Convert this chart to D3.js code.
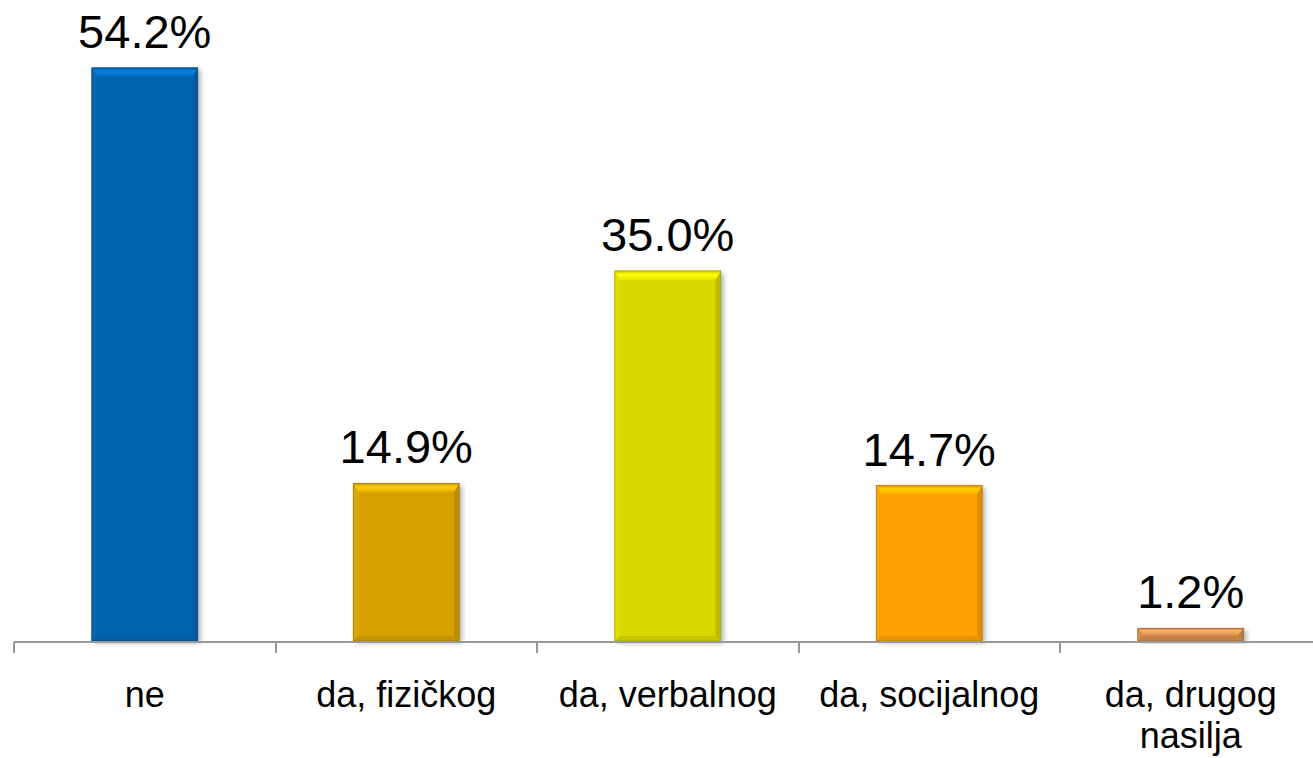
<!DOCTYPE html>
<html>
<head>
<meta charset="utf-8">
<script src="https://cdn.jsdelivr.net/npm/d3@7"></script>
<style>
  html, body { margin: 0; padding: 0; background: #ffffff; }
  svg { display: block; }
</style>
</head>
<body>
<svg id="chart" width="1313" height="758"></svg>
<script>
const categories = ["ne", "da, fizičkog", "da, verbalnog", "da, socijalnog", "da, drugog nasilja"];
const categoryLines = [["ne"], ["da, fizičkog"], ["da, verbalnog"], ["da, socijalnog"], ["da, drugog", "nasilja"]];
const values = [54.2, 14.9, 35.0, 14.7, 1.2];
const valueLabels = ["54.2%", "14.9%", "35.0%", "14.7%", "1.2%"];
const barColors = ["#0565b0", "#d6a105", "#d9d900", "#ffa105", "#d48d4d"];

const W = 1313, H = 758;
const x0 = 14, band = 261.5;
const baseY = 641;
const svg = d3.select("#chart");

const x = d3.scaleBand()
  .domain(categories)
  .range([x0, x0 + band * categories.length])
  .paddingInner(0.595)
  .paddingOuter(0.2975);

const y = d3.scaleLinear().domain([0, 60]).range([baseY, baseY - 634.5]);

const defs = svg.append("defs");
const f = defs.append("filter").attr("id", "shadow")
  .attr("x", "-20%").attr("y", "-20%").attr("width", "140%").attr("height", "140%");
f.append("feGaussianBlur").attr("in", "SourceAlpha").attr("stdDeviation", 2.5).attr("result", "b");
f.append("feOffset").attr("dx", 3).attr("dy", 2).attr("result", "o");
f.append("feComponentTransfer").append("feFuncA").attr("type", "linear").attr("slope", 0.3);
const m = f.append("feMerge");
m.append("feMergeNode");
m.append("feMergeNode").attr("in", "SourceGraphic");

const bars = svg.append("g");
categories.forEach((c, i) => {
  const bx = x(c), bw = x.bandwidth();
  const by = y(values[i]), bh = baseY - by;
  const col = d3.color(barColors[i]);
  const g = bars.append("g");
  g.append("rect").attr("x", bx).attr("y", by).attr("width", bw).attr("height", bh)
    .attr("fill", col).attr("filter", "url(#shadow)");
  const b = Math.min(9, bh / 2);
  const s = Math.min(5, bh / 2);
  const L = bx, R = bx + bw, T = by, B = by + bh;
  const gid = "tg" + i;
  const lg = defs.append("linearGradient").attr("id", gid).attr("x1", 0).attr("y1", 0).attr("x2", 0).attr("y2", 1);
  lg.append("stop").attr("offset", "0%").attr("stop-color", col.darker(0.2));
  lg.append("stop").attr("offset", "40%").attr("stop-color", col.brighter(0.7));
  lg.append("stop").attr("offset", "100%").attr("stop-color", col.brighter(0.15));
  const poly = (pts, fill) => g.append("polygon").attr("points", pts.map(p => p.join(",")).join(" ")).attr("fill", fill);
  poly([[L, T], [R, T], [R - s, T + b], [L + s, T + b]], `url(#${gid})`);
  poly([[L, T], [L + s, T + b], [L + s, B - s], [L, B]], col.brighter(0.08));
  poly([[R, T], [R, B], [R - s, B - s], [R - s, T + b]], col.darker(0.4));
  poly([[L, B], [L + s, B - s], [R - s, B - s], [R, B]], col.darker(0.25));
  g.append("rect").attr("x", L).attr("y", T).attr("width", bw).attr("height", bh)
    .attr("fill", "none").attr("stroke", col.darker(0.8)).attr("stroke-width", 0.8);

  svg.append("text")
    .attr("x", bx + bw / 2).attr("y", by - 20)
    .attr("text-anchor", "middle")
    .attr("font-family", "Liberation Sans, Arial, sans-serif")
    .attr("font-size", 47).attr("fill", "#000")
    .text(valueLabels[i]);

  const t = svg.append("text")
    .attr("text-anchor", "middle")
    .attr("font-family", "Liberation Sans, Arial, sans-serif")
    .attr("font-size", 36).attr("fill", "#000");
  categoryLines[i].forEach((ln, k) => {
    t.append("tspan").attr("x", bx + bw / 2).attr("y", 707 + k * 41).text(ln);
  });
});

// axis
const ax = svg.append("g").attr("stroke", "#999").attr("stroke-width", 2).attr("fill", "none");
ax.append("line").attr("x1", x0).attr("x2", W).attr("y1", baseY + 1).attr("y2", baseY + 1);
d3.range(categories.length + 1).forEach(k => {
  const tx = Math.round(x0 + band * k);
  if (tx <= W) ax.append("line").attr("x1", tx).attr("x2", tx).attr("y1", baseY + 1).attr("y2", baseY + 12);
});
</script>
</body>
</html>
